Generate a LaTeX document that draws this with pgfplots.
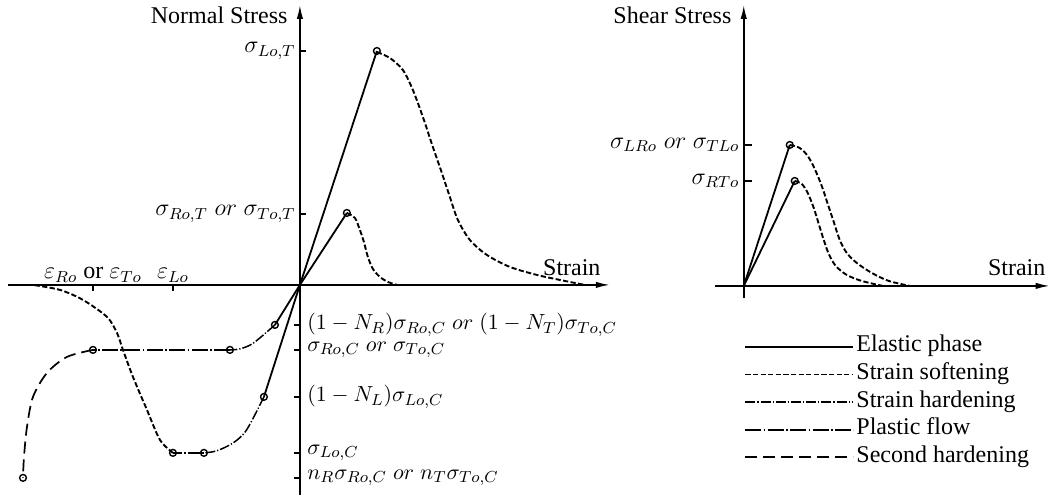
\documentclass[border=0pt]{standalone}
\usepackage{fontspec}
\setmainfont{Liberation Serif}
\usepackage{pgfplots}
\pgfplotsset{compat=1.18}
\usetikzlibrary{arrows.meta}
\tikzset{
  elastic/.style={black, line width=0.9pt, solid},
  soft/.style={black, line width=0.95pt, dash pattern=on 2.6pt off 1.2pt},
  hard/.style={black, line width=0.75pt, dash pattern=on 5pt off 1pt on 0.6pt off 1pt},
  plastic/.style={black, line width=1.15pt, dash pattern=on 8pt off 1.2pt on 0.8pt off 1.2pt},
  second/.style={black, line width=0.85pt, dash pattern=on 6pt off 3pt},
}
\pgfplotsset{
  pt/.style={only marks, mark=o, black, mark size=1.7pt, mark options={line width=0.7pt, solid}},
  myaxis/.style={
    axis lines=middle, x=0.5pt, y=0.5pt, enlargelimits=false, clip=false,
    axis line style={line width=0.8pt, -{Latex[length=7pt,width=3.2pt]}},
    tick style={line width=0.8pt, black},
    tick align=inside,
    tick label style={font=\fontsize{12}{14}\selectfont},
    label style={font=\fontsize{12}{14}\selectfont},
    yticklabel style={anchor=east, inner sep=2pt},
    xticklabel style={anchor=south, inner sep=1pt},
  },
}
\begin{document}
\begin{tikzpicture}[font=\fontsize{12}{14}\selectfont]
\path (0,0) rectangle (526pt,250pt);
% ---------------- Normal stress panel ----------------
\begin{axis}[myaxis,
  at={(4pt,2.5pt)}, anchor=south west,
  xmin=-292, xmax=310, ymin=-210, ymax=280,
  major tick length=3pt,
  xtick={-207,-127},
  xticklabels={$\varepsilon_{Ro}$ or $\varepsilon_{To}$, $\varepsilon_{Lo}$},
  xtick style={yshift=-3pt},
  ytick={71,234},
  yticklabels={$\sigma_{Ro,T}\;or\;\sigma_{To,T}$, $\sigma_{Lo,T}$},
  extra y ticks={-40,-65,-112,-168,-193},
  extra y tick labels={$(1-N_R)\sigma_{Ro,C}\;or\;(1-N_T)\sigma_{To,C}$, $\sigma_{Ro,C}\;or\;\sigma_{To,C}$, $(1-N_L)\sigma_{Lo,C}$, $\sigma_{Lo,C}$, $n_R\sigma_{Ro,C}\;or\;n_T\sigma_{To,C}$},
  extra y tick style={ytick style={xshift=-3pt}, yticklabel style={anchor=west, inner sep=0pt, xshift=3.5pt, font=\fontsize{11.2}{13}\selectfont}},
  xlabel={Strain}, ylabel={Normal Stress},
  every axis x label/.style={at={(axis cs:272,17)}, anchor=center},
  every axis y label/.style={at={(axis cs:-12,270)}, anchor=east, inner sep=0pt},
]
\addplot[elastic] coordinates {(0,0) (77,234)};
\addplot[elastic] coordinates {(0,0) (47,72)};
\addplot[soft, smooth] coordinates {(77,233) (90,227) (103,215) (113,195) (123,168) (133,138) (142,112) (150,88) (158,65) (170,45) (187,30) (210,18) (237,10) (260,5) (285,0)};
\addplot[soft, smooth] coordinates {(47,72) (55,67) (60,55) (64,43) (68,28) (73,16) (80,8) (88,3) (97,0)};
\addplot[elastic] coordinates {(0,0) (-25,-40)};
\addplot[hard, smooth] coordinates {(-25,-40) (-46.7,-58.3) (-60,-64) (-70,-65)};
\addplot[plastic] coordinates {(-70,-65) (-207,-65)};
\addplot[second, smooth] coordinates {(-207,-65) (-233,-72) (-253,-88) (-267,-112) (-273,-142) (-276,-172) (-277,-193)};
\addplot[elastic] coordinates {(0,0) (-36,-112)};
\addplot[hard, smooth] coordinates {(-36,-112) (-53.3,-145) (-66.7,-158) (-83.3,-166) (-96,-168)};
\addplot[plastic] coordinates {(-96,-168) (-127,-168)};
\addplot[soft, smooth] coordinates {(-127,-168) (-140,-155) (-153,-125) (-167,-92) (-177,-65) (-183,-48) (-193,-32) (-217,-15) (-240,-5) (-267,0)};
\addplot[pt] coordinates {(77,234) (47,72) (-25,-40) (-70,-65) (-207,-65) (-277,-193) (-36,-112) (-96,-168) (-127,-168)};
\end{axis}
% ---------------- Shear stress panel ----------------
\begin{axis}[myaxis,
  at={(357.5pt,101pt)}, anchor=south west,
  xmin=-29, xmax=306, ymin=-12, ymax=281,
  major tick length=4pt,
  xtick=\empty,
  ytick={105,141},
  yticklabels={$\sigma_{RTo}$, $\sigma_{LRo}\;or\;\sigma_{TLo}$},
  xlabel={Strain}, ylabel={Shear Stress},
  every axis x label/.style={at={(axis cs:273,18)}, anchor=center},
  every axis y label/.style={at={(axis cs:-12,271)}, anchor=east, inner sep=0pt},
  legend style={at={(axis description cs:0.0866,-0.125)}, anchor=north west, draw=none, fill=none, inner sep=0pt, row sep=1.8pt, nodes={inner sep=1pt, text height=0.75em, text depth=0.25em}, font=\fontsize{12}{14}\selectfont},
  legend cell align=left,
  legend image code/.code={\draw[#1] (0pt,0pt) -- (54pt,0pt);},
]
\addlegendimage{elastic}\addlegendentry{Elastic phase}
\addlegendimage{soft}\addlegendentry{Strain softening}
\addlegendimage{hard}\addlegendentry{Strain hardening}
\addlegendimage{plastic}\addlegendentry{Plastic flow}
\addlegendimage{second}\addlegendentry{Second hardening}
\addplot[elastic, forget plot] coordinates {(0,0) (46,141)};
\addplot[elastic, forget plot] coordinates {(0,0) (51,105)};
\addplot[soft, smooth, forget plot] coordinates {(46,141) (56,138) (64,130) (71,117) (78,100) (84,82) (90,64) (96,46) (103,33) (113,23) (128,13) (145,5) (166,0)};
\addplot[soft, smooth, forget plot] coordinates {(51,105) (58,102) (64,93) (70,78) (75,62) (80,46) (85,32) (92,20) (103,11) (118,5) (139,0)};
\addplot[pt, forget plot] coordinates {(46,141) (51,105)};
\end{axis}
\end{tikzpicture}
\end{document}
